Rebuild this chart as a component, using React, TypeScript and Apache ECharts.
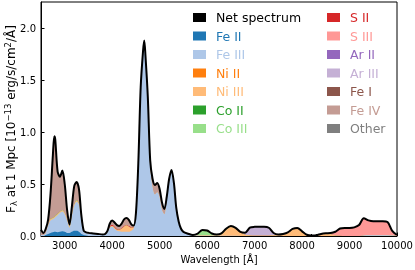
import React, { useEffect, useRef } from 'react';
import * as echarts from 'echarts';

// Shared wavelength grid [Å]
const wavelengths = [
  2500, 2550, 2600, 2650, 2700, 2750, 2780, 2800, 2850, 2900, 2950, 3000, 3050, 3100, 3150, 3200,
  3250, 3300, 3350, 3400, 3450, 3500, 3600, 3700, 3800, 3850, 3900, 3950, 4000, 4050, 4100, 4150,
  4200, 4250, 4300, 4350, 4400, 4450, 4500, 4550, 4600, 4650, 4675, 4700, 4750, 4800, 4850, 4900,
  4950, 5000, 5050, 5100, 5150, 5200, 5250, 5300, 5350, 5400, 5450, 5500, 5600, 5700, 5800, 5900,
  6000, 6100, 6200, 6300, 6400, 6500, 6600, 6700, 6800, 6900, 7000, 7100, 7200, 7300, 7400, 7500,
  7600, 7700, 7800, 7900, 8000, 8100, 8200, 8300, 8400, 8500, 8600, 8700, 8800, 8900, 9000, 9100,
  9200, 9300, 9400, 9500, 9600, 9700, 9800, 9900, 10000,
];

// Contributions [10^-13 erg/s/cm^2/Å] as [wavelength, value]; unlisted grid points are 0
const feII: [number, number][] = [
  [2600, 0.01], [2650, 0.02], [2700, 0.03], [2750, 0.035], [2780, 0.04], [2800, 0.04], [2850, 0.035],
  [2900, 0.04], [2950, 0.045], [3000, 0.04], [3050, 0.03], [3100, 0.03], [3150, 0.04], [3200, 0.05],
  [3250, 0.05], [3300, 0.04], [3350, 0.02], [3400, 0.01], [3450, 0.005],
];
const feIII: [number, number][] = [
  [2500, 0.01], [2550, 0.01], [2600, 0.02], [2650, 0.08], [2700, 0.12], [2750, 0.125], [2780, 0.13],
  [2800, 0.14], [2850, 0.165], [2900, 0.18], [2950, 0.19], [3000, 0.17], [3050, 0.12], [3100, 0.05],
  [3150, 0.15], [3200, 0.24], [3250, 0.28], [3300, 0.26], [3350, 0.14], [3400, 0.03], [3450, 0.025],
  [3500, 0.025], [3600, 0.02], [3700, 0.015], [3800, 0.01], [3850, 0.01], [3900, 0.035], [3950, 0.08],
  [4000, 0.09], [4050, 0.07], [4100, 0.05], [4150, 0.045], [4200, 0.04], [4250, 0.04], [4300, 0.04],
  [4350, 0.04], [4400, 0.05], [4450, 0.07], [4500, 0.19], [4550, 0.68], [4600, 1.41], [4650, 1.76],
  [4675, 1.86], [4700, 1.71], [4750, 1.29], [4800, 0.66], [4850, 0.47], [4900, 0.4], [4950, 0.42],
  [5000, 0.37], [5050, 0.25], [5100, 0.21], [5150, 0.35], [5200, 0.53], [5250, 0.615], [5300, 0.49],
  [5350, 0.255], [5400, 0.13], [5450, 0.065], [5500, 0.04], [5600, 0.022], [5700, 0.008], [5800, 0.005],
  [5900, 0.003], [6000, 0.003], [6100, 0.002], [6200, 0.002], [6300, 0.002], [6400, 0.002],
  [6500, 0.002], [6600, 0.002], [9300, 0.006], [9400, 0.008], [9500, 0.008], [9600, 0.008],
  [9700, 0.008], [9800, 0.007], [9900, 0.004],
];
const niIII: [number, number][] = [
  [2650, 0.008], [2700, 0.01], [2750, 0.01], [2780, 0.01], [2800, 0.01], [2850, 0.01], [2900, 0.01],
  [2950, 0.01], [3000, 0.01], [3050, 0.01], [3100, 0.01], [3150, 0.01], [3200, 0.01], [3250, 0.01],
  [3300, 0.01], [3350, 0.01], [3400, 0.005], [3950, 0.005], [4000, 0.005], [4050, 0.01], [4100, 0.01],
  [4150, 0.015], [4200, 0.03], [4250, 0.05], [4300, 0.06], [4350, 0.05], [4400, 0.03], [4450, 0.01],
  [4500, 0.005], [5800, 0.003], [5900, 0.005], [6000, 0.005], [6100, 0.004], [6200, 0.005],
  [6300, 0.015], [6400, 0.058], [6500, 0.085], [6600, 0.072], [6700, 0.035], [6800, 0.012],
  [6900, 0.005], [7000, 0.003], [7100, 0.002], [7200, 0.002], [7300, 0.003], [7400, 0.004],
  [7500, 0.005], [7600, 0.018], [7700, 0.035], [7800, 0.068], [7900, 0.078], [8000, 0.045],
  [8100, 0.012], [8200, 0.006], [8300, 0.008], [8400, 0.02], [8500, 0.026], [8600, 0.018],
  [8700, 0.006], [8800, 0.002],
];
const coIII: [number, number][] = [
  [2700, 0.006], [2750, 0.006], [2780, 0.006], [2800, 0.006], [2850, 0.006], [2900, 0.006],
  [2950, 0.006], [3000, 0.006], [3050, 0.006], [3100, 0.006], [3150, 0.006], [3200, 0.006],
  [3250, 0.006], [3300, 0.006], [3350, 0.006], [5700, 0.002], [5800, 0.015], [5900, 0.05],
  [6000, 0.045], [6100, 0.018], [6200, 0.008], [6300, 0.008], [6400, 0.01], [6500, 0.008],
  [6600, 0.005], [6700, 0.002],
];
const sII: [number, number][] = [
  [3900, 0.003], [3950, 0.008], [4000, 0.01], [4050, 0.01], [4100, 0.008], [4150, 0.005],
  [4200, 0.005], [4250, 0.005], [4300, 0.005], [4350, 0.005], [4400, 0.005], [4450, 0.003],
];
const sIII: [number, number][] = [
  [8600, 0.01], [8700, 0.035], [8800, 0.07], [8900, 0.078], [9000, 0.078], [9100, 0.083],
  [9200, 0.105], [9300, 0.165], [9400, 0.142], [9500, 0.134], [9600, 0.134], [9700, 0.134],
  [9800, 0.128], [9900, 0.045], [10000, 0.01],
];
const arIII: [number, number][] = [
  [6700, 0.003], [6800, 0.02], [6900, 0.075], [7000, 0.085], [7100, 0.087], [7200, 0.087],
  [7300, 0.076], [7400, 0.025], [7500, 0.01], [7600, 0.002],
];
const feIV: [number, number][] = [
  [2500, 0.05], [2550, 0.02], [2600, 0.04], [2650, 0.05], [2700, 0.234], [2750, 0.6], [2780, 0.774],
  [2800, 0.734], [2850, 0.404], [2900, 0.334], [2950, 0.379], [3000, 0.274], [3050, 0.084],
  [3100, 0.014], [3150, 0.074], [3200, 0.174], [3250, 0.174], [3300, 0.134], [3350, 0.024],
  [3400, 0.005], [3450, 0.005], [3500, 0.005], [3600, 0.005], [3700, 0.005], [3800, 0.005],
  [3850, 0.01], [3900, 0.012], [3950, 0.027], [4000, 0.043], [4050, 0.04], [4100, 0.037],
  [4150, 0.032], [4200, 0.045], [4250, 0.065], [4300, 0.067], [4350, 0.06], [4400, 0.03],
  [4450, 0.017], [4500, 0.025], [4550, 0.02], [4600, 0.02], [4650, 0.02], [4675, 0.02], [4700, 0.03],
  [4750, 0.05], [4800, 0.07], [4850, 0.08], [4900, 0.09], [4950, 0.09], [5000, 0.08], [5050, 0.07],
  [5100, 0.05], [5150, 0.03], [5200, 0.02], [5250, 0.02], [5300, 0.02], [5350, 0.015], [5400, 0.01],
  [5450, 0.005],
];
const none: [number, number][] = [];

const ionNames = ['Fe II', 'Fe III', 'Ni II', 'Ni III', 'Co II', 'Co III', 'S II', 'S III', 'Ar II', 'Ar III', 'Fe I', 'Fe IV', 'Other'];
const ionColors = ['#1f77b4', '#aec7e8', '#ff7f0e', '#ffbb78', '#2ca02c', '#98df8a', '#d62728', '#ff9896', '#9467bd', '#c5b0d5', '#8c564b', '#c49c94', '#7f7f7f'];
const ionData = [feII, feIII, none, niIII, none, coIII, sII, sIII, none, arIII, none, feIV, none];

const FONT = 'DejaVu Sans';

function denseValues(pairs: [number, number][]): number[] {
  const m = new Map<number, number>(pairs);
  return wavelengths.map((w) => m.get(w) ?? 0);
}

export default function App() {
  const ref = useRef<HTMLDivElement>(null);
  useEffect(() => {
    if (!ref.current) return;
    const chart = echarts.init(ref.current, undefined, { renderer: 'svg' });

    // cumulative (stacked) tops, bottom layer first
    const cum: number[][] = [];
    ionData.forEach((pairs, k) => {
      const d = denseValues(pairs);
      cum.push(d.map((v, i) => v + (k > 0 ? cum[k - 1][i] : 0)));
    });
    const net = cum[cum.length - 1];

    // painter's order: top-most layer drawn first, each filled down to zero
    const ionSeries = ionNames
      .map((name, k) => ({
        name,
        type: 'line',
        smooth: 0.3,
        symbol: 'none',
        showSymbol: false,
        lineStyle: { width: 0, color: ionColors[k] },
        itemStyle: { color: ionColors[k], borderWidth: 0 },
        areaStyle: { color: ionColors[k], opacity: 1 },
        data: ionData[k].length ? wavelengths.map((w, i) => [w, cum[k][i]]) : [],
        z: 2,
      }))
      .reverse();

    const legendBase = {
      orient: 'vertical',
      top: 11,
      padding: 0,
      itemWidth: 13,
      itemHeight: 9,
      itemGap: 5.5,
      icon: 'rect',
      selectedMode: false,
      itemStyle: { borderWidth: 0 },
      textStyle: { fontFamily: FONT, fontSize: 12.5, padding: [0, 0, 0, 5] },
    };
    const legendItems = [
      { name: 'Net spectrum', textStyle: { color: '#000' } },
      ...ionNames.map((n, k) => ({ name: n, textStyle: { color: ionColors[k] } })),
    ];

    chart.setOption({
      animation: false,
      textStyle: { fontFamily: FONT },
      grid: {
        left: 41, right: 18, top: 2, bottom: 34, outerBoundsMode: 'none', containLabel: false,
        show: true, borderColor: '#000', borderWidth: 1, backgroundColor: 'transparent',
      },
      legend: [
        { ...legendBase, left: 193, data: legendItems.slice(0, 7) },
        { ...legendBase, left: 327, data: legendItems.slice(7) },
      ],
      xAxis: {
        type: 'value',
        min: 2500,
        max: 10000,
        splitNumber: 8,
        minInterval: 1000,
        maxInterval: 1000,
        axisLine: { show: true, lineStyle: { color: '#000', width: 1 } },
        axisTick: { show: true, inside: true, length: 3.5, lineStyle: { color: '#000' } },
        minorTick: { show: true, splitNumber: 10, length: 2, lineStyle: { color: '#000' } },
        splitLine: { show: false },
        axisLabel: {
          color: '#000', fontSize: 10, fontFamily: FONT, margin: 4, showMinLabel: false,
          formatter: (v: number) => String(v),
        },
        name: 'Wavelength [Å]',
        nameLocation: 'middle',
        nameGap: 17,
        nameTextStyle: { color: '#000', fontSize: 10, fontFamily: FONT },
      },
      yAxis: {
        type: 'value',
        min: 0,
        max: 2.25,
        interval: 0.5,
        axisLine: { show: true, lineStyle: { color: '#000', width: 1 } },
        axisTick: { show: true, inside: true, length: 3.5, lineStyle: { color: '#000' } },
        splitLine: { show: false },
        axisLabel: {
          color: '#000', fontSize: 10, fontFamily: FONT, margin: 5, showMaxLabel: false,
          formatter: (v: number) => v.toFixed(1),
        },
        name: '{n|F}{sub|λ}{n| at 1 Mpc [10}{sup|−13}{n| erg/s/cm}{sup|2}{n|/Å]}',
        nameLocation: 'middle',
        nameGap: 23,
        nameMoveOverlap: false,
        nameTextStyle: {
          color: '#000', fontSize: 12, fontFamily: FONT,
          rich: {
            n: { fontSize: 12, fontFamily: FONT, color: '#000', lineHeight: 15, verticalAlign: 'middle' },
            sub: { fontSize: 8.5, fontFamily: FONT, color: '#000', lineHeight: 15, verticalAlign: 'bottom' },
            sup: { fontSize: 8.5, fontFamily: FONT, color: '#000', lineHeight: 15, verticalAlign: 'top' },
          },
        },
      },
      series: [
        ...ionSeries,
        {
          name: 'Net spectrum',
          type: 'line',
          smooth: 0.3,
          symbol: 'none',
          showSymbol: false,
          lineStyle: { width: 2, color: '#000' },
          itemStyle: { color: '#000', borderWidth: 0 },
          data: wavelengths.map((w, i) => [w, net[i]]),
          z: 5,
        },
      ],
    });
    return () => chart.dispose();
  }, []);
  return <div ref={ref} style={{ position: 'fixed', left: 0, top: 0, width: 415, height: 270 }} />;
}
